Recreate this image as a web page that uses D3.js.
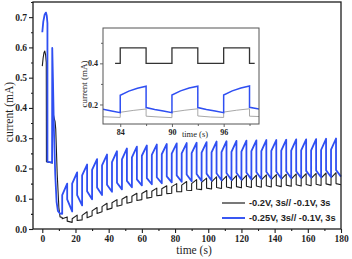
<!DOCTYPE html>
<html>
<head>
<meta charset="utf-8">
<script src="https://cdn.jsdelivr.net/npm/d3@7/dist/d3.min.js"></script>
<style>
body { margin:0; background:#fff; }
svg { display:block; }
</style>
</head>
<body>
<div id="chart"></div>
<script>

// Main plot data (time in s, current in mA)
var xTicks = [0,20,40,60,80,100,120,140,160,180];
var yTicks = [0.0,0.1,0.2,0.3,0.4,0.5,0.6,0.7];
var legendLabels = ["-0.2V, 3s// -0.1V, 3s", "-0.25V, 3s// -0.1V, 3s"];

// first transient, before the regular pulses
var blackHead = [[0,0.538],[0.5,0.565],[1.0,0.582],[1.5,0.588],[2.0,0.575],[2.4,0.55],[2.5,0.222],[4.0,0.221],[6.1,0.218],
	[6.2,0.39],[7.0,0.37],[7.7,0.355],[8.1,0.33],[9.0,0.18],[10.0,0.07],[10.7,0.04]];
var blueHead = [[0,0.650],[0.6,0.685],[1.4,0.708],[2.2,0.715],[2.7,0.705],[3.1,0.68],[3.1,0.222],[4.5,0.221],[5.9,0.219],
	[6.0,0.598],[6.4,0.50],[7.0,0.33],[7.8,0.18],[8.6,0.09],[9.4,0.06],[10.5,0.052]];

// regular pulses: start of each 3s high step
var pulseStarts = [12,18,24,30,36,42,48,54,60,66,72,78,84,90,96,102,108,114,120,126,132,138,144,150,156,162,168,174];
var highTime = 3;

// -0.2V series: value before step, after step, end of high, after drop
var blackLow  = [0.038,0.022,0.030,0.044,0.057,0.069,0.079,0.089,0.097,0.105,0.112,0.118,0.123,0.127,0.130,0.132,0.134,0.135,0.136,0.137,0.138,0.139,0.140,0.141,0.142,0.143,0.144,0.145];
var blackJump = [0.034,0.034,0.045,0.060,0.074,0.087,0.098,0.108,0.117,0.125,0.133,0.140,0.145,0.150,0.154,0.156,0.158,0.159,0.160,0.161,0.162,0.163,0.164,0.165,0.166,0.167,0.168,0.169];
var blackPeak = [0.040,0.046,0.057,0.071,0.085,0.097,0.108,0.118,0.127,0.135,0.143,0.150,0.157,0.163,0.168,0.172,0.175,0.176,0.177,0.178,0.179,0.180,0.181,0.182,0.183,0.184,0.185,0.186];
var blackDrop = [0.026,0.028,0.037,0.051,0.064,0.075,0.085,0.094,0.102,0.110,0.117,0.123,0.128,0.132,0.135,0.137,0.139,0.140,0.141,0.142,0.143,0.144,0.145,0.146,0.147,0.148,0.149,0.150];
var blackEnd = [180,0.146];

// -0.25V series
var blueLow  = [0.050,0.058,0.078,0.098,0.112,0.123,0.131,0.138,0.144,0.148,0.151,0.154,0.156,0.158,0.159,0.160,0.161,0.162,0.163,0.164,0.165,0.166,0.167,0.168,0.169,0.170,0.171,0.172];
var blueJump = [0.112,0.150,0.177,0.195,0.210,0.221,0.230,0.237,0.242,0.245,0.247,0.249,0.250,0.251,0.252,0.253,0.254,0.255,0.256,0.257,0.257,0.258,0.259,0.259,0.260,0.260,0.261,0.262];
var bluePeak = [0.150,0.187,0.213,0.231,0.246,0.257,0.266,0.272,0.276,0.279,0.281,0.283,0.284,0.285,0.287,0.289,0.290,0.291,0.292,0.293,0.294,0.294,0.295,0.296,0.296,0.297,0.298,0.299];
var blueDrop = [0.098,0.112,0.125,0.137,0.146,0.153,0.159,0.164,0.168,0.171,0.174,0.177,0.180,0.182,0.183,0.184,0.185,0.186,0.187,0.188,0.189,0.190,0.191,0.191,0.192,0.193,0.194,0.195];
var blueEnd = [180,0.173];

// Inset data (zoom 82-100 s)
var insetXTicks = [84,90,96];
var insetYTicks = [0.2,0.4];
var insetSquare = [[83.4,0.4],[84,0.4],[84,0.475],[87,0.475],[87,0.4],[90,0.4],[90,0.475],[93,0.475],[93,0.4],
	[96,0.4],[96,0.475],[99,0.475],[99,0.4],[99.6,0.4]];
var insetBlue = [[81.6,0.180],[83,0.168],[84,0.160],[84,0.245],[85,0.265],[86,0.279],[87,0.289],[87,0.185],[88,0.176],[89,0.168],
	[90,0.160],[90,0.246],[91,0.266],[92,0.280],[93,0.289],[93,0.185],[94,0.176],[95,0.168],
	[96,0.160],[96,0.246],[97,0.266],[98,0.280],[99,0.290],[99,0.186],[100.3,0.177]];
var insetGray = [[81.6,0.141],[84,0.137],[84,0.162],[85.5,0.171],[87,0.178],[87,0.143],[88.5,0.139],
	[90,0.136],[90,0.163],[91.5,0.172],[93,0.179],[93,0.144],[94.5,0.139],
	[96,0.137],[96,0.163],[97.5,0.172],[99,0.179],[99,0.143],[100.3,0.141]];


// Drawing parameters
var W = 352, H = 259;
var plotLeft = 33, plotRight = 341, plotTop = 2, plotBottom = 229;
var inLeft = 103, inRight = 259, inTop = 28, inBottom = 124;

var blueColor = "#2f4ff2";
var blackColor = "#1e1e1e";
var serif = "'Liberation Serif','Times New Roman',serif";
var sans = "'Liberation Sans',Arial,sans-serif";

var svg = d3.select("#chart").append("svg")
	.attr("width",W).attr("height",H)
	.style("background","#fff");

var x = d3.scaleLinear().domain([-5.6,180]).range([plotLeft,plotRight]);
var y = d3.scaleLinear().domain([0,0.75]).range([plotBottom,plotTop]);

function pulsePoints(head, low, jump, peak, drop, end) {
	var pts = head.slice(0);
	for (var i = 0; i < pulseStarts.length; i++) {
		pts.push([pulseStarts[i], low[i]]);
		pts.push([pulseStarts[i], jump[i]]);
		pts.push([pulseStarts[i] + highTime, peak[i]]);
		pts.push([pulseStarts[i] + highTime, drop[i]]);
	}
	pts.push(end);
	return pts;
}

var line = d3.line()
	.x(function(d) { return x(d[0]); })
	.y(function(d) { return y(d[1]); });

// Axes
function styleAxis(g, fontSize) {
	g.select(".domain").remove();
	g.selectAll(".tick line").attr("stroke",blackColor).attr("stroke-width",1.1);
	g.selectAll(".tick text")
		.attr("fill",blackColor)
		.style("font-family",serif)
		.style("font-weight","bold")
		.style("font-size",fontSize + "px");
}

var gx = svg.append("g")
	.attr("transform","translate(0," + plotBottom + ")")
	.call(d3.axisBottom(x).tickValues(xTicks).tickSize(4).tickPadding(2).tickFormat(d3.format("d")));
styleAxis(gx, 9.5);

var gxMinor = svg.append("g")
	.attr("transform","translate(0," + plotBottom + ")")
	.call(d3.axisBottom(x).tickValues(xTicks.slice(0,-1).map(function(d) { return d + 10; })).tickSize(2).tickFormat(""));
styleAxis(gxMinor, 9.5);

var gy = svg.append("g")
	.attr("transform","translate(" + plotLeft + ",0)")
	.call(d3.axisLeft(y).tickValues(yTicks).tickSize(4).tickPadding(2).tickFormat(d3.format(".1f")));
styleAxis(gy, 9.5);

var gyMinor = svg.append("g")
	.attr("transform","translate(" + plotLeft + ",0)")
	.call(d3.axisLeft(y).tickValues(yTicks.map(function(d) { return d + 0.05; })).tickSize(2).tickFormat(""));
styleAxis(gyMinor, 9.5);

// Axis titles
svg.append("text")
	.attr("x",194).attr("y",254)
	.attr("text-anchor","middle")
	.style("font-family",serif).style("font-size","11.5px")
	.attr("fill",blackColor)
	.text("time (s)");

svg.append("text")
	.attr("transform","translate(12.5,112) rotate(-90)")
	.attr("text-anchor","middle")
	.style("font-family",serif).style("font-size","11.5px")
	.attr("fill",blackColor)
	.text("current (mA)");

// Series
svg.append("path")
	.datum(pulsePoints(blackHead, blackLow, blackJump, blackPeak, blackDrop, blackEnd))
	.attr("d",line)
	.attr("fill","none")
	.attr("stroke",blackColor)
	.attr("stroke-width",1.1)
	.attr("stroke-linejoin","round");

svg.append("path")
	.datum(pulsePoints(blueHead, blueLow, blueJump, bluePeak, blueDrop, blueEnd))
	.attr("d",line)
	.attr("fill","none")
	.attr("stroke",blueColor)
	.attr("stroke-width",1.8)
	.attr("stroke-linejoin","round");

// Frame
svg.append("rect")
	.attr("x",plotLeft).attr("y",plotTop)
	.attr("width",plotRight-plotLeft).attr("height",plotBottom-plotTop)
	.attr("fill","none")
	.attr("stroke",blackColor)
	.attr("stroke-width",1.3);

// Legend
var legendColors = [blackColor, blueColor];
var legendY = [203, 218];
legendLabels.forEach(function(label, i) {
	svg.append("line")
		.attr("x1",222).attr("x2",245)
		.attr("y1",legendY[i]).attr("y2",legendY[i])
		.attr("stroke",legendColors[i])
		.attr("stroke-width",i == 0 ? 1.2 : 1.9);
	svg.append("text")
		.attr("x",249).attr("y",legendY[i] + 3.3)
		.style("font-family",sans).style("font-size","9.3px").style("font-weight","bold")
		.attr("fill",blackColor)
		.text(label);
});


// INSET

var xi = d3.scaleLinear().domain([82,100.1]).range([inLeft,inRight]);
var yi = d3.scaleLinear().domain([0.105,0.572]).range([inBottom,inTop]);

var lineInset = d3.line()
	.x(function(d) { return xi(d[0]); })
	.y(function(d) { return yi(d[1]); });

svg.append("rect")
	.attr("x",inLeft).attr("y",inTop)
	.attr("width",inRight-inLeft).attr("height",inBottom-inTop)
	.attr("fill","#fff");

svg.append("clipPath").attr("id","insetclip")
	.append("rect")
	.attr("x",inLeft).attr("y",inTop)
	.attr("width",inRight-inLeft).attr("height",inBottom-inTop);

var gInset = svg.append("g").attr("clip-path","url(#insetclip)");

gInset.append("path")
	.datum(insetGray)
	.attr("d",lineInset)
	.attr("fill","none")
	.attr("stroke","#a8a8a8")
	.attr("stroke-width",1);

gInset.append("path")
	.datum(insetBlue)
	.attr("d",lineInset)
	.attr("fill","none")
	.attr("stroke",blueColor)
	.attr("stroke-width",1.5);

gInset.append("path")
	.datum(insetSquare)
	.attr("d",lineInset)
	.attr("fill","none")
	.attr("stroke","#333")
	.attr("stroke-width",1.3);

var inAxisColor = "#555";

function styleInsetAxis(g) {
	g.select(".domain").remove();
	g.selectAll(".tick line").attr("stroke",inAxisColor).attr("stroke-width",0.9);
	g.selectAll(".tick text")
		.attr("fill",blackColor)
		.style("font-family",serif)
		.style("font-weight","bold")
		.style("font-size","8px");
}

var gxi = svg.append("g")
	.attr("transform","translate(0," + inBottom + ")")
	.call(d3.axisBottom(xi).tickValues(insetXTicks).tickSize(3).tickPadding(2).tickFormat(d3.format("d")));
styleInsetAxis(gxi);

var gxiMinor = svg.append("g")
	.attr("transform","translate(0," + inBottom + ")")
	.call(d3.axisBottom(xi).tickValues(insetXTicks.map(function(d) { return d + 3; })).tickSize(2).tickFormat(""));
styleInsetAxis(gxiMinor);

var gyi = svg.append("g")
	.attr("transform","translate(" + inLeft + ",0)")
	.call(d3.axisLeft(yi).tickValues(insetYTicks).tickSize(3).tickPadding(2).tickFormat(d3.format(".1f")));
styleInsetAxis(gyi);

var gyiMinor = svg.append("g")
	.attr("transform","translate(" + inLeft + ",0)")
	.call(d3.axisLeft(yi).tickValues(insetYTicks.map(function(d) { return d + 0.1; })).tickSize(2).tickFormat(""));
styleInsetAxis(gyiMinor);

svg.append("rect")
	.attr("x",inLeft).attr("y",inTop)
	.attr("width",inRight-inLeft).attr("height",inBottom-inTop)
	.attr("fill","none")
	.attr("stroke",inAxisColor)
	.attr("stroke-width",1);

svg.append("text")
	.attr("x",195).attr("y",137)
	.attr("text-anchor","middle")
	.style("font-family",serif).style("font-size","8.5px")
	.attr("fill",blackColor)
	.text("time (s)");

svg.append("text")
	.attr("transform","translate(86.5,84) rotate(-90)")
	.attr("text-anchor","middle")
	.style("font-family",serif).style("font-size","9px")
	.attr("fill",blackColor)
	.text("current (mA)");

</script>
</body>
</html>
